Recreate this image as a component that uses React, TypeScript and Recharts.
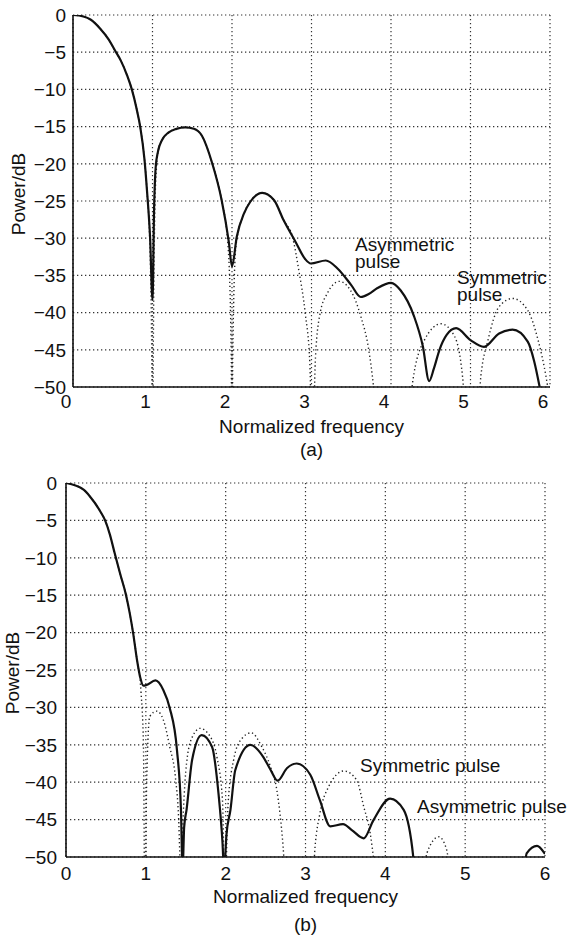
import { LineChart, Line, XAxis, YAxis, CartesianGrid, Label } from "recharts";

const FONT = '"Liberation Sans", Arial, sans-serif';
const INK = "#111";

const xTicks = [0, 1, 2, 3, 4, 5, 6];
const yTicks = [0, -5, -10, -15, -20, -25, -30, -35, -40, -45, -50];

// (a) asymmetric pulse, solid
const freqAAsym = [0, 0.13, 0.22, 0.34, 0.45, 0.53, 0.6, 0.68, 0.74, 0.8, 0.845, 0.9, 0.93, 0.97, 1.0, 1.02, 1.04, 1.07, 1.12, 1.2, 1.3, 1.41, 1.52, 1.62, 1.75, 1.87, 1.96, 2.0, 2.06, 2.15, 2.23, 2.38, 2.53, 2.65, 2.8, 2.92, 2.99, 3.18, 3.33, 3.5, 3.62, 3.72, 3.83, 4.0, 4.12, 4.29, 4.4, 4.48, 4.54, 4.61, 4.7, 4.82, 5.0, 5.17, 5.36, 5.53, 5.72, 5.8, 5.87];
const powerAAsym = [0, -0.2, -0.6, -1.8, -3.3, -4.8, -6.1, -8.1, -10, -12.6, -15, -19.5, -23.5, -30, -38.3, -26, -20.5, -18.3, -16.8, -15.8, -15.3, -15.1, -15.3, -16.2, -19.9, -24.9, -30.5, -33.8, -29.8, -26.7, -25.1, -23.9, -24.9, -27.6, -30.5, -32.8, -33.4, -33.0, -34.1, -36.3, -37.9, -37.5, -36.7, -36.0, -37.0, -40.5, -44.5, -49.2, -47.5, -45.0, -43.0, -42.1, -43.7, -44.6, -42.8, -42.3, -43.9, -46.5, -50];

// (a) symmetric pulse, dotted
const freqASym = [0, 0.13, 0.22, 0.34, 0.45, 0.53, 0.6, 0.68, 0.74, 0.8, 0.845, 0.9, 0.93, 0.97, 0.99, 1.0, 1.01, 1.03, 1.05, 1.07, 1.12, 1.2, 1.3, 1.41, 1.52, 1.62, 1.75, 1.87, 1.95, 1.99, 2.0, 2.01, 2.05, 2.15, 2.23, 2.38, 2.53, 2.65, 2.76, 2.84, 2.92, 2.98, 3.01, 3.05, 3.11, 3.2, 3.35, 3.49, 3.62, 3.72, 3.78, 3.85, 4.18, 4.27, 4.42, 4.63, 4.8, 4.9, 4.95, 5.08, 5.13, 5.22, 5.36, 5.53, 5.72, 5.85, 5.95, 6.0];
const powerASym = [0, -0.2, -0.6, -1.8, -3.3, -4.8, -6.1, -8.1, -10, -12.6, -15, -19.5, -23.5, -32, -45, -65, -45, -26, -20.5, -18.3, -16.8, -15.8, -15.3, -15.1, -15.3, -16.2, -19.9, -24.9, -31, -45, -65, -45, -31, -26.7, -25.1, -23.9, -24.9, -27.6, -29.8, -34.3, -40, -47, -60, -46, -40, -37.4, -35.8, -37, -40.5, -45, -50, -60, -60, -49.5, -43.7, -41.5, -43.2, -48.6, -55, -55, -48.6, -43.7, -39.2, -38.1, -39.7, -43.7, -48.6, -52];

// (b) asymmetric pulse, solid
const freqBAsym = [0, 0.22, 0.3, 0.43, 0.49, 0.55, 0.61, 0.68, 0.75, 0.8, 0.84, 0.89, 0.93, 0.97, 1.01, 1.12, 1.22, 1.3, 1.39, 1.44, 1.46, 1.48, 1.51, 1.58, 1.7, 1.83, 1.91, 1.96, 1.98, 2.01, 2.06, 2.12, 2.31, 2.47, 2.56, 2.65, 2.77, 2.89, 3.06, 3.18, 3.31, 3.47, 3.58, 3.73, 3.85, 4.06, 4.23, 4.35, 4.4, 5.7, 5.77, 5.9, 6.0];
const powerBAsym = [0, -0.9, -1.8, -3.8, -5.0, -6.9, -9.4, -12.2, -14.9, -17.5, -20, -23.7, -26, -27.1, -27.0, -26.4, -27.7, -30.1, -35.7, -43.7, -52, -46, -43.7, -37, -33.7, -35.3, -41.5, -48, -52, -47, -43.7, -38.4, -35.0, -36.6, -38.3, -39.8, -38.1, -37.5, -39, -42.4, -45.9, -45.6, -46.4, -47.5, -45.1, -42.2, -43.7, -50, -56, -56, -49.5, -48.5, -49.6];

// (b) symmetric pulse, dotted
const freqBSym = [0, 0.22, 0.3, 0.43, 0.49, 0.55, 0.61, 0.68, 0.75, 0.8, 0.84, 0.89, 0.94, 0.97, 0.99, 1.01, 1.05, 1.14, 1.22, 1.3, 1.37, 1.41, 1.44, 1.47, 1.51, 1.58, 1.68, 1.8, 1.89, 1.96, 1.99, 2.03, 2.1, 2.2, 2.32, 2.45, 2.56, 2.64, 2.72, 2.76, 3.08, 3.12, 3.18, 3.29, 3.48, 3.64, 3.73, 3.81, 3.86, 3.9, 4.45, 4.52, 4.67, 4.77, 4.82, 6.0];
const powerBSym = [0, -0.9, -1.8, -3.8, -5.0, -6.9, -9.4, -12.2, -14.9, -17.5, -20, -23.7, -28, -35, -60, -40, -31.2, -30.5, -31.7, -35.3, -39.3, -44.6, -53, -44, -37.5, -34, -32.8, -33.8, -36.6, -42.4, -55, -43, -37, -34.2, -33.4, -35.2, -37.9, -41, -48.7, -55, -55, -48.6, -44.2, -40.6, -38.5, -39.7, -43.3, -46.8, -51, -56, -56, -49.5, -47.3, -49.1, -53, -55];

const zip = (f: number[], p: number[]) => f.map((x, i) => ({ f: x, p: p[i] }));

const fmt = (v: number) => (v < 0 ? `\u2212${-v}` : `${v}`);

interface Note {
  text: string;
  left: number;
  top: number;
}

interface PanelProps {
  top: number;
  marginTop: number;
  marginRight: number;
  marginBottom: number;
  yWidth: number;
  xHeight: number;
  xTickDx: number;
  xTickMargin: number;
  yTickMargin: number;
  yLabelDx: number;
  yLabelDy: number;
  titleOffset: number;
  caption: string;
  captionOffset: number;
  asym: { f: number; p: number }[];
  sym: { f: number; p: number }[];
}

function Panel(props: PanelProps) {
  const tickStyle = { fill: INK, fontSize: 19, fontFamily: FONT };
  return (
    <div style={{ position: "absolute", left: 0, top: props.top, width: 568, height: 470 }}>
      <LineChart
        width={568}
        height={470}
        margin={{ top: props.marginTop, right: props.marginRight, bottom: props.marginBottom, left: 0 }}
      >
        <CartesianGrid stroke="#333" strokeWidth={1.2} strokeDasharray="1.3 2.7" />
        <XAxis
          type="number"
          dataKey="f"
          domain={[0, 6]}
          ticks={xTicks}
          allowDataOverflow
          height={props.xHeight}
          tickLine={false}
          tickSize={6}
          tickMargin={props.xTickMargin}
          axisLine={{ stroke: INK, strokeWidth: 1.6 }}
          tick={{ ...tickStyle, dx: props.xTickDx }}
        >
          <Label value="Normalized frequency" position="insideBottom" offset={props.titleOffset} fill={INK} fontSize={19} fontFamily={FONT} />
          <Label value={props.caption} position="insideBottom" offset={props.captionOffset} fill={INK} fontSize={19} fontFamily={FONT} />
        </XAxis>
        <XAxis
          xAxisId="top"
          orientation="top"
          type="number"
          domain={[0, 6]}
          ticks={xTicks}
          height={0}
          mirror
          tick={false}
          tickSize={5}
          tickLine={{ stroke: INK, strokeWidth: 1.4 }}
          axisLine={{ stroke: INK, strokeWidth: 1.6 }}
        />
        <YAxis
          type="number"
          dataKey="p"
          domain={[-50, 0]}
          ticks={yTicks}
          allowDataOverflow
          width={props.yWidth}
          tickLine={false}
          tickSize={6}
          tickMargin={props.yTickMargin}
          tickFormatter={fmt}
          axisLine={{ stroke: INK, strokeWidth: 1.6 }}
          tick={tickStyle}
        >
          <Label value="Power/dB" position="center" angle={-90} dx={props.yLabelDx} dy={props.yLabelDy} fill={INK} fontSize={19} fontFamily={FONT} />
        </YAxis>
        <YAxis
          yAxisId="right"
          orientation="right"
          type="number"
          domain={[-50, 0]}
          ticks={yTicks}
          width={0}
          mirror
          tick={false}
          tickSize={5}
          tickLine={{ stroke: INK, strokeWidth: 1.4 }}
          axisLine={{ stroke: INK, strokeWidth: 1.6 }}
        />
        <Line
          data={props.sym}
          dataKey="p"
          type="monotone"
          stroke="#222"
          strokeWidth={1.4}
          strokeDasharray="1.3 2.7"
          dot={false}
          isAnimationActive={false}
        />
        <Line
          data={props.asym}
          dataKey="p"
          type="monotone"
          stroke={INK}
          strokeWidth={2.2}
          dot={false}
          isAnimationActive={false}
        />
      </LineChart>
    </div>
  );
}

const notes: Note[] = [
  { text: "Asymmetric\npulse", left: 355, top: 237 },
  { text: "Symmetric\npulse", left: 457, top: 270 },
  { text: "Symmetric pulse", left: 360, top: 758 },
  { text: "Asymmetric pulse", left: 417, top: 799 },
];

export default function App() {
  return (
    <div style={{ position: "absolute", left: 0, top: 0, width: 568, height: 940, background: "#fff" }}>
      <Panel
        top={0}
        marginTop={15}
        marginRight={18}
        marginBottom={7}
        yWidth={73}
        xHeight={76}
        xTickDx={-7}
        xTickMargin={2}
        yTickMargin={1}
        yLabelDx={-18.5}
        yLabelDy={-7}
        titleOffset={30}
        caption="(a)"
        captionOffset={7}
        asym={zip(freqAAsym, powerAAsym)}
        sym={zip(freqASym, powerASym)}
      />
      <Panel
        top={470}
        marginTop={13}
        marginRight={23}
        marginBottom={8}
        yWidth={66}
        xHeight={75}
        xTickDx={0}
        xTickMargin={3.5}
        yTickMargin={3}
        yLabelDx={-21}
        yLabelDy={3}
        titleOffset={29}
        caption="(b)"
        captionOffset={1}
        asym={zip(freqBAsym, powerBAsym)}
        sym={zip(freqBSym, powerBSym)}
      />
      {notes.map((n) => (
        <div
          key={n.text}
          style={{
            position: "absolute",
            left: n.left,
            top: n.top,
            fontFamily: FONT,
            fontSize: 19,
            lineHeight: "16.5px",
            color: INK,
            whiteSpace: "pre",
          }}
        >
          {n.text}
        </div>
      ))}
    </div>
  );
}
